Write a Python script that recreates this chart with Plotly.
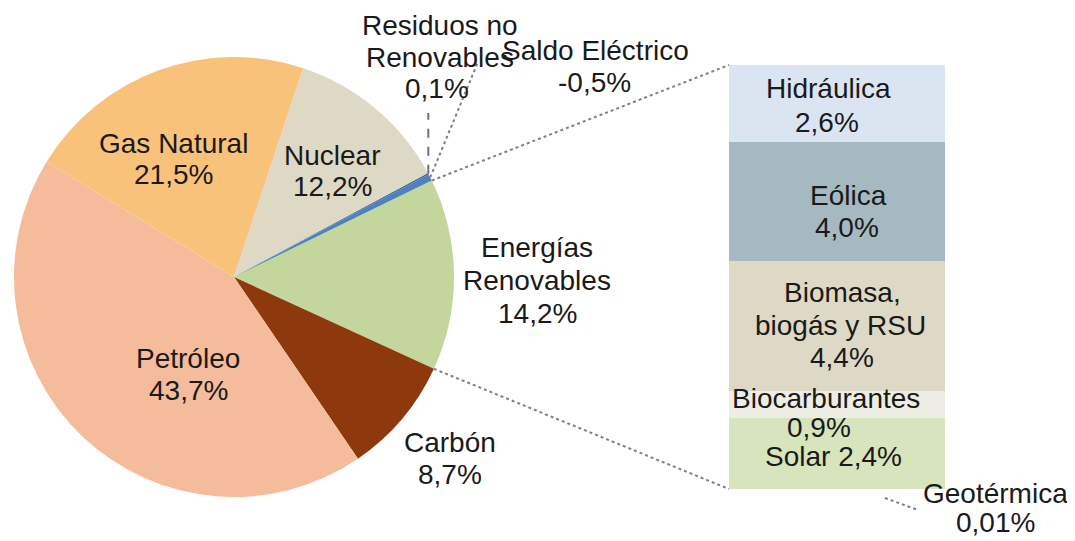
import math
import plotly.graph_objects as go

# the page body has an 8px margin, so the figure is drawn 8px smaller and
# all reference pixel positions are shifted by that offset
OFF = 8
W, H = 1075 - OFF, 541 - OFF

# pie slices, clockwise starting with the renewables slice
pie_labels = ['Energías Renovables', 'Carbón', 'Petróleo', 'Gas Natural', 'Nuclear',
              'Residuos no Renovables', 'Saldo Eléctrico']
pie_values = [14.2, 8.7, 43.7, 21.5, 12.2, 0.1, -0.5]
pie_colors = ['#c3d69b', '#8e390d', '#f5bc9b', '#f8c27b', '#ddd9c4', '#2f5f9e', '#4f81bd']

# breakdown of renewables (top to bottom in the bar)
ren_labels = ['Hidráulica', 'Eólica', 'Biomasa, biogás y RSU', 'Biocarburantes', 'Solar', 'Geotérmica']
ren_values = [2.6, 4.0, 4.4, 0.9, 2.4, 0.01]
ren_colors = ['#dbe5f1', '#a5b9c0', '#ddd9c4', '#eeede4', '#d7e4bd', '#b9cd8e']

FONT = dict(family='Arial, Liberation Sans, sans-serif', size=28, color='#1a1a1a')
LINE = dict(color='#808080', width=2, dash='dot')

# pie geometry in reference pixels
CX, CY, R = 234, 277, 220
ROT = 64


def pct(v, nd=1):
    return f"{v:.{nd}f}".replace('.', ',') + '%'


def px(x, y):
    return (x - OFF) / W, 1 - (y - OFF) / H


def pie_point(angle_deg):
    a = math.radians(angle_deg)
    return CX + R * math.sin(a), CY - R * math.cos(a)


fig = go.Figure()

dx0, dy1 = px(CX - R, CY - R)
dx1, dy0 = px(CX + R, CY + R)
fig.add_trace(go.Pie(
    labels=pie_labels,
    values=[abs(v) for v in pie_values],
    sort=False,
    direction='clockwise',
    rotation=ROT,
    marker=dict(colors=pie_colors, line=dict(width=0)),
    textinfo='none',
    showlegend=False,
    domain=dict(x=[dx0, dx1], y=[dy0, dy1]),
))

# stacked bar of renewables, bottom segment first
for lab, val, col in reversed(list(zip(ren_labels, ren_values, ren_colors))):
    fig.add_trace(go.Bar(
        x=[0], y=[val], name=lab, width=1,
        marker=dict(color=col, line=dict(width=0)),
        showlegend=False,
    ))

total_ren = sum(ren_values)
BAR_L, BAR_R, BAR_T, BAR_B = 729, 945, 65, 489
bx0, by1 = px(BAR_L, BAR_T)
bx1, by0 = px(BAR_R, BAR_B)

fig.update_layout(
    width=W, height=H,
    margin=dict(l=0, r=0, t=0, b=0),
    paper_bgcolor='white', plot_bgcolor='white',
    barmode='stack',
    xaxis=dict(domain=[bx0, bx1], range=[-0.5, 0.5], visible=False),
    yaxis=dict(domain=[by0, by1], range=[0, total_ren], visible=False),
)


def seg(p0, p1, line):
    x0, y0 = px(*p0)
    x1, y1 = px(*p1)
    fig.add_shape(type='line', xref='paper', yref='paper', x0=x0, y0=y0, x1=x1, y1=y1, line=line)


# connector lines from the renewables slice to the bar
tot = sum(abs(v) for v in pie_values)
a0 = ROT
a1 = ROT + abs(pie_values[0]) / tot * 360
seg(pie_point(a0), (BAR_L, BAR_T), LINE)
seg(pie_point(a1), (BAR_L, BAR_B), LINE)

# leader lines for the tiny slices
a_res = ROT - (abs(pie_values[6]) + abs(pie_values[5]) / 2) / tot * 360
a_sal = ROT - abs(pie_values[6]) / 2 / tot * 360
rx, ry = pie_point(a_res)
seg((rx, ry), (rx, 113), dict(color='#707070', width=2, dash='dash'))
seg(pie_point(a_sal), (478, 62), LINE)
seg((885, 498), (918, 510), LINE)


def text_block(lines):
    for t, x, y in lines:
        xx, yy = px(x, y)
        fig.add_annotation(text=t, x=xx, y=yy, xref='paper', yref='paper', showarrow=False,
                           xanchor='center', yanchor='middle', font=FONT)


v = dict(zip(pie_labels, pie_values))
text_block([('Gas Natural', 173, 143), (pct(v['Gas Natural']), 173, 175)])
text_block([('Nuclear', 332, 155), (pct(v['Nuclear']), 332, 186)])
text_block([('Petróleo', 188, 358), (pct(v['Petróleo']), 188, 390)])
text_block([('Energías', 537, 247), ('Renovables', 537, 280), (pct(v['Energías Renovables']), 537, 313)])
text_block([('Carbón', 450, 442), (pct(v['Carbón']), 450, 474)])
text_block([('Residuos no', 440, 25), ('Renovables', 440, 57), (pct(v['Residuos no Renovables']), 437, 88)])
text_block([('Saldo Eléctrico', 595, 50), (pct(v['Saldo Eléctrico']), 594, 83)])

rv = dict(zip(ren_labels, ren_values))
text_block([('Hidráulica', 828, 88), (pct(rv['Hidráulica']), 827, 122)])
text_block([('Eólica', 848, 195), (pct(rv['Eólica']), 847, 227)])
text_block([('Biomasa,', 842, 292), ('biogás y RSU', 840, 325), (pct(rv['Biomasa, biogás y RSU']), 842, 357)])
text_block([('Biocarburantes', 826, 398), (pct(rv['Biocarburantes']), 819, 427)])
text_block([('Solar ' + pct(rv['Solar']), 833, 456)])
text_block([('Geotérmica', 995, 493), (pct(rv['Geotérmica'], 2), 995, 522)])

fig.write_html("out.html")
